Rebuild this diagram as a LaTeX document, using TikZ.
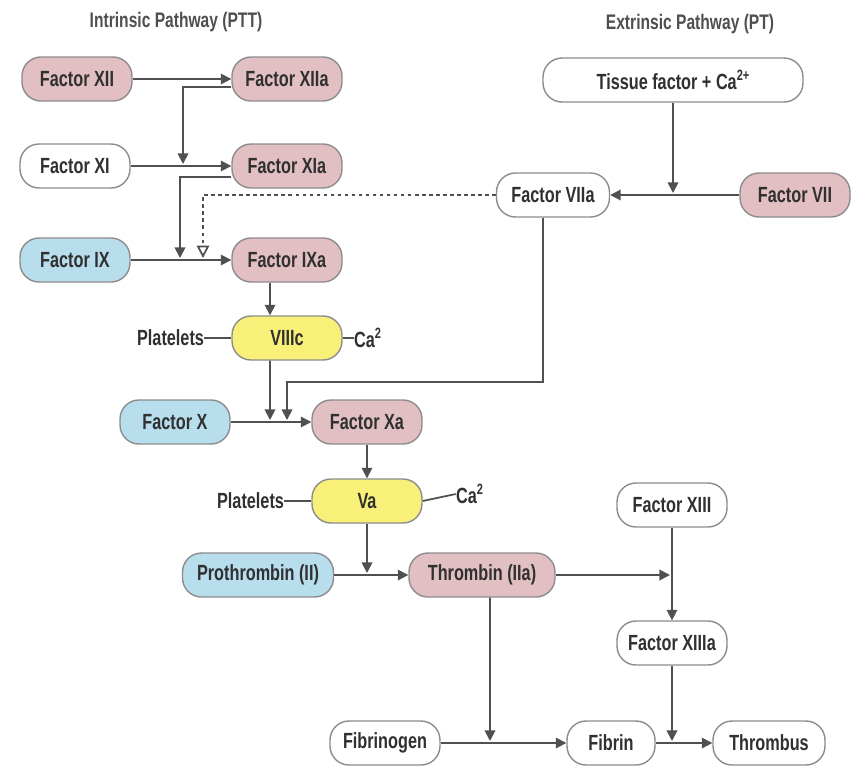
\documentclass[tikz,border=0pt]{standalone}
\usepackage{fontspec}
\setmainfont{Liberation Sans}[FakeStretch=0.74]
\usetikzlibrary{arrows.meta,positioning}

\definecolor{factorpink}{RGB}{226,191,195}
\definecolor{factorblue}{RGB}{184,222,238}
\definecolor{factoryellow}{RGB}{249,240,122}
\definecolor{boxline}{RGB}{140,140,140}
\definecolor{inktext}{RGB}{48,48,48}
\definecolor{linkgray}{RGB}{80,80,80}

% small raised charge
\newcommand{\ionsup}[1]{\raisebox{0.4em}{\fontsize{8.5}{8.5}\selectfont #1}}

\begin{document}
\begin{tikzpicture}[x=0.02cm, y=-0.02cm,
		factor/.style={draw=boxline, line width=0.8pt, rounded corners=0.38cm, minimum width=2.2cm, minimum height=0.88cm, inner sep=0pt, text=inktext, font=\bfseries\fontsize{12.5}{14}\selectfont},
		title/.style={text=inktext!85, font=\bfseries\fontsize{12}{14}\selectfont},
		side/.style={inner sep=0pt, text=inktext, font=\bfseries\fontsize{12.5}{14}\selectfont},
		arr/.style={draw=linkgray, line width=1pt, -{Triangle[length=6pt,width=6pt]}},
		dasharr/.style={draw=linkgray, line width=1pt, dash pattern=on 2pt off 2pt, -{Triangle[open,length=7pt,width=7pt]}},
		link/.style={draw=linkgray, line width=1pt}]
	
	% Fix the size of the picture
	\useasboundingbox (0,0) rectangle (855,765);
	
	% Titles of the two pathways
	\node[title] (intrinsic) at (176,22) {Intrinsic Pathway (PTT)};
	\node[title] (extrinsic) at (690,24) {Extrinsic Pathway (PT)};
	
	% Intrinsic pathway
	\node[factor, fill=factorpink] (xii) at (77,79) {Factor XII};
	\node[factor, fill=factorpink] (xiia) at (287,79) {Factor XIIa};
	\node[factor, fill=white] (xi) at (75,166) {Factor XI};
	\node[factor, fill=factorpink] (xia) at (287,166) {Factor XIa};
	\node[factor, fill=factorblue] (ix) at (75,260) {Factor IX};
	\node[factor, fill=factorpink] (ixa) at (287,260) {Factor IXa};
	\node[factor, fill=factoryellow] (viiic) at (287,338) {VIIIc};
	\node[side, left=0.54cm of viiic] (platelets1) {Platelets};
	\node[side, right=0.22cm of viiic] (calcium1) {Ca\ionsup{2}};
	
	% Extrinsic pathway
	\node[factor, fill=white, minimum width=5.2cm] (tissue) at (673,80) {Tissue factor + Ca\ionsup{2+}};
	\node[factor, fill=white, minimum width=2.26cm] (viia) at (553,195) {Factor VIIa};
	\node[factor, fill=factorpink] (vii) at (795,195) {Factor VII};
	
	% Common pathway
	\node[factor, fill=factorblue] (fx) at (175,422) {Factor X};
	\node[factor, fill=factorpink] (fxa) at (367,422) {Factor Xa};
	\node[factor, fill=factoryellow] (va) at (367,501) {Va};
	\node[side, left=0.54cm of va] (platelets2) {Platelets};
	\node[side, right=0.66cm of va, yshift=0.14cm] (calcium2) {Ca\ionsup{2}};
	\node[factor, fill=factorblue, minimum width=3.02cm] (prothrombin) at (258,575) {Prothrombin (II)};
	\node[factor, fill=factorpink, minimum width=2.92cm] (thrombin) at (482,575) {Thrombin (IIa)};
	\node[factor, fill=white] (xiii) at (672,505) {Factor XIII};
	\node[factor, fill=white] (xiiia) at (672,643) {Factor XIIIa};
	\node[factor, fill=white] (fibrinogen) at (385,743) {Fibrinogen};
	\node[factor, fill=white, minimum width=1.76cm] (fibrin) at (611,743) {Fibrin};
	\node[factor, fill=white, minimum width=2.24cm] (thrombus) at (769,743) {Thrombus};
	
	% Points where an arrow meets a line
	\coordinate (stepXI) at (183,164);
	\coordinate (stepIX) at (180,258);
	\coordinate (stepDash) at (203,258);
	\coordinate (stepVII) at (673,193);
	\coordinate (bendVIIa) at (287,382);
	\coordinate (stepX1) at (270,420);
	\coordinate (stepX2) at (287,420);
	\coordinate (stepII) at (367,573);
	\coordinate (stepXIII) at (670,575);
	\coordinate (stepFib) at (490,741);
	\coordinate (stepThr) at (672,741);
	
	% Intrinsic connectors
	\draw[arr] (xii) -- (xiia);
	\draw[arr] ([yshift=-0.16cm]xiia.west) -| (stepXI);
	\draw[arr] (xi) -- (xia);
	\draw[arr] ([yshift=-0.22cm]xia.west) -| (stepIX);
	\draw[arr] (ix) -- (ixa);
	\draw[dasharr] (viia.west) -| (stepDash);
	\draw[arr] ([xshift=-0.34cm]ixa.south) -- ([xshift=-0.34cm]viiic.north);
	\draw[link] (platelets1) -- (viiic);
	\draw[link] (viiic) -- (calcium1);
	
	% Extrinsic connectors
	\draw[arr] (tissue) -- (stepVII);
	\draw[arr] (vii) -- (viia);
	
	% Common connectors
	\draw[arr] ([xshift=-0.34cm]viiic.south) -- (stepX1);
	\draw[arr] ([xshift=-0.2cm]viia.south) |- (bendVIIa) -- (stepX2);
	\draw[arr] (fx) -- (fxa);
	\draw[arr] (fxa) -- (va);
	\draw[link] (platelets2) -- (va);
	\draw[link] (va.east) -- (calcium2.west);
	\draw[arr] (va) -- (stepII);
	\draw[arr] (prothrombin) -- (thrombin);
	\draw[arr] (thrombin) -- (stepXIII);
	\draw[arr] (xiii) -- (xiiia);
	\draw[arr] ([xshift=0.16cm]thrombin.south) -- (stepFib);
	\draw[arr] (fibrinogen) -- (fibrin);
	\draw[arr] (xiiia) -- (stepThr);
	\draw[arr] (fibrin) -- (thrombus);
\end{tikzpicture}
\end{document}
